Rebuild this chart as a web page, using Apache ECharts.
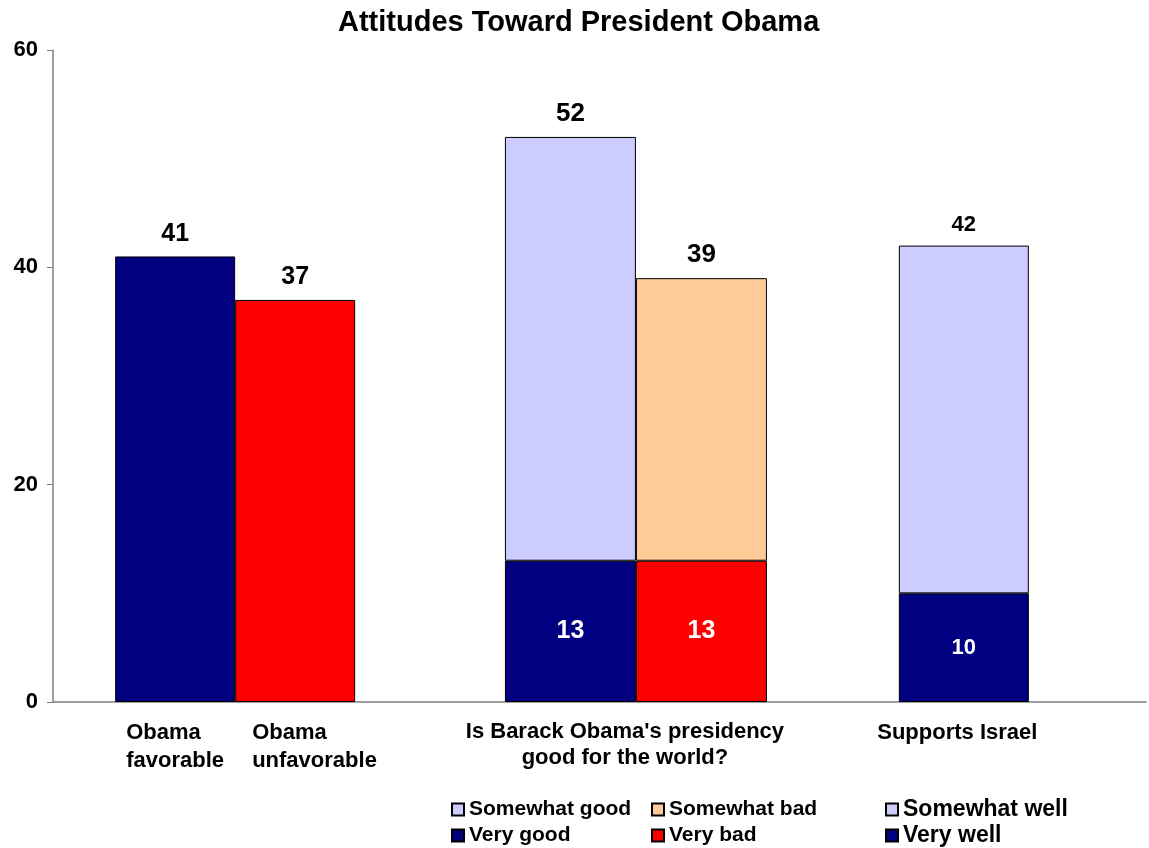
<!DOCTYPE html>
<html>
<head>
<meta charset="utf-8">
<title>Attitudes Toward President Obama</title>
<script src="https://cdn.jsdelivr.net/npm/echarts@6/dist/echarts.min.js"></script>
<style>
  html, body { margin: 0; padding: 0; background: #ffffff; }
  #chart { width: 1149px; height: 848px; }
</style>
</head>
<body>
<div id="chart"></div>
<script>
// ---- Data ----
const chartTitle = 'Attitudes Toward President Obama';
const favorabilityNames = ['Obama favorable', 'Obama unfavorable'];
const favorabilityValues = [41, 37];

const presidencyQuestion = "Is Barack Obama's presidency\ngood for the world?";
const presidencyNames = ['Very good', 'Somewhat good', 'Very bad', 'Somewhat bad'];
const presidencyGood = [13, 39];   // very good, somewhat good
const presidencyBad = [13, 26];    // very bad, somewhat bad

const israelQuestion = 'Supports Israel';
const israelNames = ['Very well', 'Somewhat well'];
const israelValues = [10, 32];     // very well, somewhat well

const yTicks = [0, 20, 40, 60];

// ---- Layout of the category slots along the x axis ----
const slotCount = 31;
const groupSlot = [5, 16, 25];     // favorability, presidency, Israel
const slots = Array.from({ length: slotCount }, (_, i) => String(i));

function atSlot(slot, value) {
  return slots.map((_, i) => (i === slot ? value : '-'));
}

const FONT = "'Liberation Sans', Arial, sans-serif";
const NAVY = '#000080', RED = '#FF0000', LAVENDER = '#CCCCFF', PEACH = '#FFCC99';

const axisLabelText = {};
axisLabelText[groupSlot[0]] =
  '{s| }{a|Obama}{b|Obama}\n{s| }{a|favorable}{b|unfavorable}';
axisLabelText[groupSlot[1]] = presidencyQuestion.split('\n').map(t => '{q|' + t + '}').join('\n');
axisLabelText[groupSlot[2]] = '{r|' + israelQuestion + '}';

const labelBase = { fontFamily: FONT, fontWeight: 'bold', fontSize: 22, color: '#000', lineHeight: 27 };

function barStyle(color) {
  return { color: color, borderColor: '#000', borderWidth: 1 };
}
function topLabel(total, size) {
  return {
    show: true, position: 'top', distance: 10,
    fontFamily: FONT, fontWeight: 'bold', fontSize: size, color: '#000',
    formatter: () => String(total)
  };
}
function insideLabel(size) {
  return {
    show: true, position: 'inside',
    fontFamily: FONT, fontWeight: 'bold', fontSize: size, color: '#fff'
  };
}

// Extra category axes, one per bar group, so each group gets its own bar width
const hiddenX = () => ({
  type: 'category', data: slots, boundaryGap: false, gridIndex: 0,
  show: false
});

const legendText = (size) => ({ fontFamily: FONT, fontWeight: 'bold', fontSize: size, color: '#000' });

const option = {
  animation: false,
  backgroundColor: '#ffffff',
  title: {
    text: chartTitle, left: 338, top: 7, padding: 0,
    textStyle: { fontFamily: FONT, fontWeight: 'bold', fontSize: 29, color: '#000', lineHeight: 31 }
  },
  grid: { left: 53, right: 2, top: 50, bottom: 146, containLabel: false },
  legend: [
    {
      data: ['Somewhat good', 'Very good'], orient: 'vertical', left: 451, top: 799,
      itemWidth: 12, itemHeight: 12, itemGap: 5, itemTextGap: 5, selectedMode: false,
      padding: 0, icon: 'rect', textStyle: legendText(21)
    },
    {
      data: ['Somewhat bad', 'Very bad'], orient: 'vertical', left: 651, top: 799,
      itemWidth: 12, itemHeight: 12, itemGap: 5, itemTextGap: 5, selectedMode: false,
      padding: 0, icon: 'rect', textStyle: legendText(21)
    },
    {
      data: ['Somewhat well', 'Very well'], orient: 'vertical', left: 885, top: 798,
      itemWidth: 12, itemHeight: 12, itemGap: 3, itemTextGap: 6, selectedMode: false,
      padding: 0, icon: 'rect', textStyle: legendText(23)
    }
  ],
  xAxis: [
    {
      type: 'category', data: slots, boundaryGap: false, gridIndex: 0,
      axisLine: { show: true, onZero: false, lineStyle: { color: '#808080', width: 1.5 } },
      axisTick: { show: false },
      splitLine: { show: false },
      axisLabel: {
        interval: 0, margin: 17, hideOverlap: false,
        formatter: (v, i) => axisLabelText[i] || '',
        rich: {
          s: Object.assign({}, labelBase, { width: 38, align: 'left' }),
          a: Object.assign({}, labelBase, { width: 126, align: 'left', lineHeight: 28 }),
          b: Object.assign({}, labelBase, { width: 130, align: 'left', lineHeight: 28 }),
          q: Object.assign({}, labelBase, { padding: [0, 22, 0, 0], lineHeight: 26 }),
          r: Object.assign({}, labelBase, { padding: [0, 13, 0, 0] })
        }
      }
    },
    hiddenX(),
    hiddenX()
  ],
  yAxis: {
    type: 'value', min: 0, max: 60, interval: 20,
    axisLine: { show: true, lineStyle: { color: '#808080', width: 1.5 } },
    axisTick: { show: true, length: 6, lineStyle: { color: '#808080' } },
    splitLine: { show: false },
    axisLabel: {
      margin: 15, fontFamily: FONT, fontWeight: 'bold', fontSize: 22, color: '#000',
      formatter: v => (yTicks.includes(v) ? String(v) : '')
    }
  },
  series: [
    // Favorability
    {
      name: favorabilityNames[0], type: 'bar', xAxisIndex: 1,
      data: atSlot(groupSlot[0], favorabilityValues[0]),
      barWidth: 120, barGap: '0%', itemStyle: barStyle(NAVY),
      label: topLabel(favorabilityValues[0], 25)
    },
    {
      name: favorabilityNames[1], type: 'bar', xAxisIndex: 1,
      data: atSlot(groupSlot[0], favorabilityValues[1]),
      barWidth: 120, barGap: '0%', itemStyle: barStyle(RED),
      label: topLabel(favorabilityValues[1], 25)
    },
    // Presidency good / bad for the world
    {
      name: presidencyNames[0], type: 'bar', xAxisIndex: 0, stack: 'good',
      data: atSlot(groupSlot[1], presidencyGood[0]),
      barWidth: 131, barGap: '0%', itemStyle: barStyle(NAVY),
      label: insideLabel(25)
    },
    {
      name: presidencyNames[1], type: 'bar', xAxisIndex: 0, stack: 'good',
      data: atSlot(groupSlot[1], presidencyGood[1]),
      barWidth: 131, barGap: '0%', itemStyle: barStyle(LAVENDER),
      label: topLabel(presidencyGood[0] + presidencyGood[1], 26)
    },
    {
      name: presidencyNames[2], type: 'bar', xAxisIndex: 0, stack: 'bad',
      data: atSlot(groupSlot[1], presidencyBad[0]),
      barWidth: 131, barGap: '0%', itemStyle: barStyle(RED),
      label: insideLabel(25)
    },
    {
      name: presidencyNames[3], type: 'bar', xAxisIndex: 0, stack: 'bad',
      data: atSlot(groupSlot[1], presidencyBad[1]),
      barWidth: 131, barGap: '0%', itemStyle: barStyle(PEACH),
      label: topLabel(presidencyBad[0] + presidencyBad[1], 26)
    },
    // Supports Israel
    {
      name: israelNames[0], type: 'bar', xAxisIndex: 2, stack: 'israel',
      data: atSlot(groupSlot[2], israelValues[0]),
      barWidth: 130, itemStyle: barStyle(NAVY),
      label: insideLabel(22)
    },
    {
      name: israelNames[1], type: 'bar', xAxisIndex: 2, stack: 'israel',
      data: atSlot(groupSlot[2], israelValues[1]),
      barWidth: 130, itemStyle: barStyle(LAVENDER),
      label: topLabel(israelValues[0] + israelValues[1], 22)
    }
  ]
};

const chart = echarts.init(document.getElementById('chart'), null, { renderer: 'canvas' });
chart.setOption(option);
</script>
</body>
</html>
